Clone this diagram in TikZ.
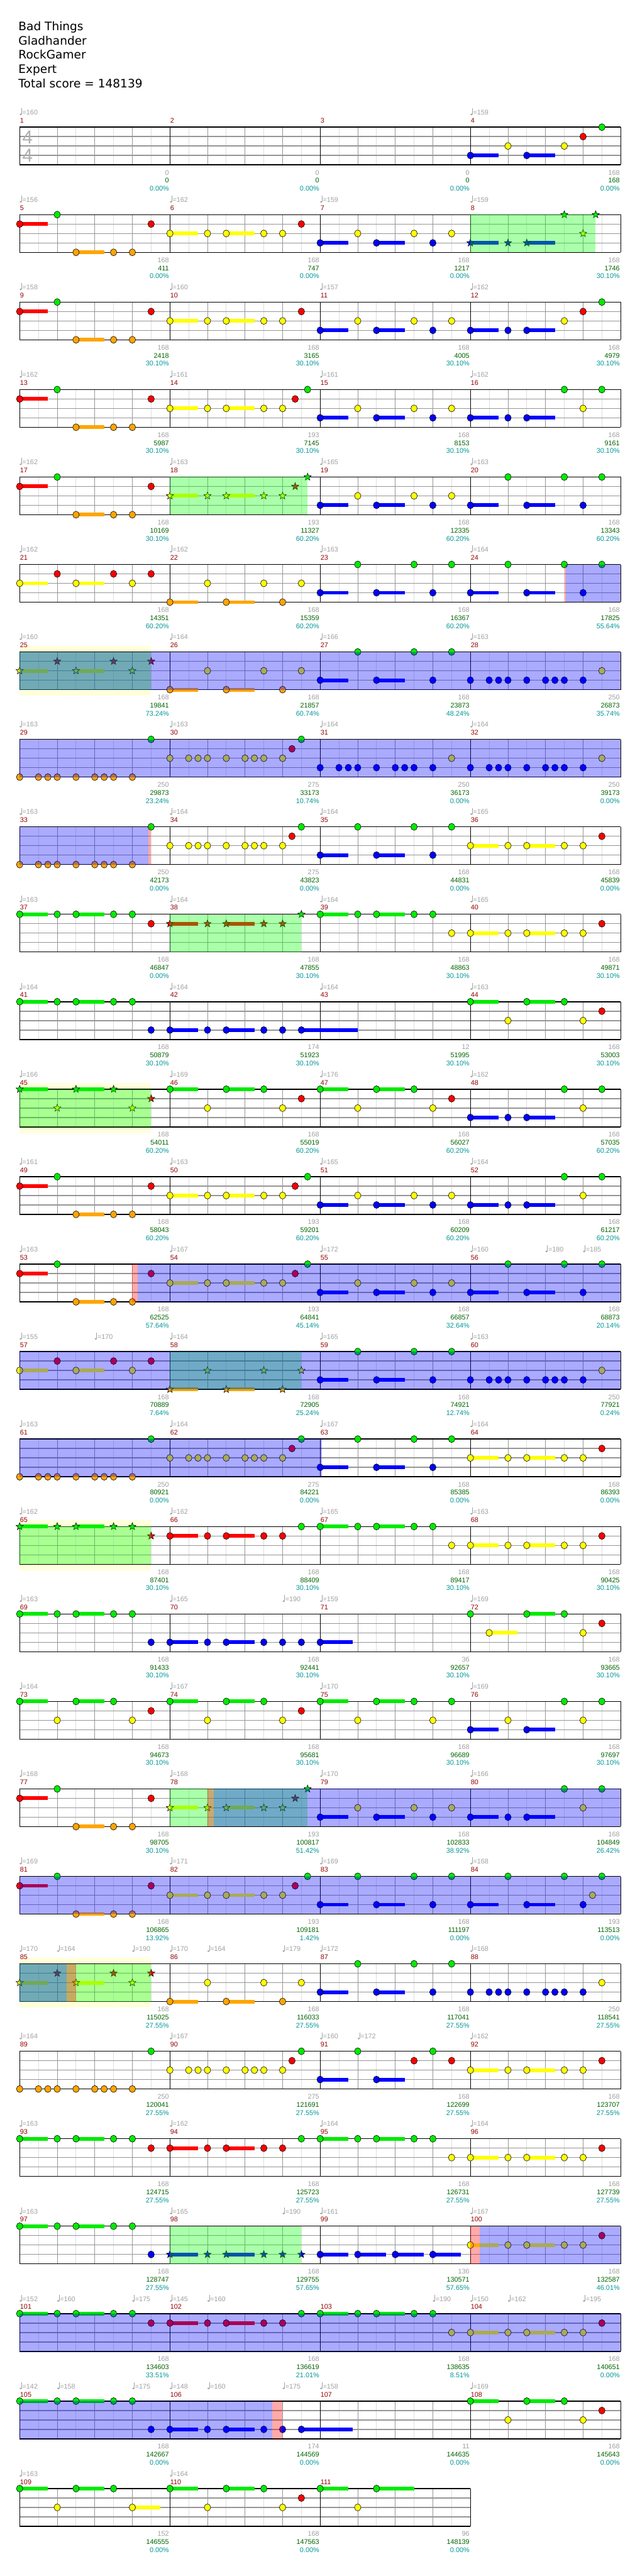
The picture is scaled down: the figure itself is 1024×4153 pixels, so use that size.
\documentclass[tikz,border=0pt]{standalone}
\usepackage{fontspec}
\setmainfont{Liberation Sans}
\newfontfamily\titlefont{DejaVu Sans}

% fret colours
\definecolor{lane0}{RGB}{0,235,0}
\definecolor{lane1}{RGB}{255,0,0}
\definecolor{lane2}{RGB}{255,255,0}
\definecolor{lane3}{RGB}{0,0,255}
\definecolor{lane4}{RGB}{255,165,0}
% chart colours
\definecolor{gridgray}{RGB}{150,150,150}
\definecolor{gridlight}{RGB}{222,222,222}
\definecolor{labgray}{RGB}{160,160,160}
\definecolor{scoregreen}{RGB}{0,100,0}
\definecolor{pctteal}{RGB}{0,150,150}
\definecolor{barred}{RGB}{150,0,0}
\definecolor{unisonbg}{RGB}{255,255,218}
\definecolor{siggray}{RGB}{175,175,175}

% layout, in pixels of the chart
\def\XO{31.7}    % left edge of the staves
\def\MW{242.3}   % one measure
\def\EW{30.2875} % one eighth
\def\RO{205}     % top line of the first staff
\def\RS{141}     % staff to staff
\def\LS{15.2}    % fret line to fret line

\tikzset{
  halfline/.style={gridlight,line width=0.8},
  beatline/.style={gridgray,line width=0.8},
  fretline/.style={gridgray,line width=1.4},
  barline/.style={black,line width=0.9},
  edgeline/.style={black,line width=1.4},
  notebox/.style={draw=black,line width=0.6},
  smalltxt/.style={font=\fontsize{11}{13}\selectfont,inner sep=0pt},
  titletxt/.style={font=\titlefont\fontsize{18.8}{22}\selectfont,inner sep=0pt,anchor=base west},
  gzone/.style={fill={rgb,255:red,0;green,255;blue,0},fill opacity=0.333},
  bzone/.style={fill=blue,fill opacity=0.333},
  pzone/.style={fill=red,fill opacity=0.333}
}

% origin of measure #1 -> \mx,\my
\newcommand\mpos[1]{%
  \pgfmathtruncatemacro\mrow{(#1-1)/4}%
  \pgfmathtruncatemacro\mcol{#1-1-4*\mrow}%
  \pgfmathsetmacro\mx{\XO+\mcol*\MW}%
  \pgfmathsetmacro\my{\RO+\mrow*\RS}}

% one measure of staff
\newcommand\staff[1]{\mpos{#1}%
  \foreach \k in {1,3,5,7}{\draw[halfline] (\mx+\k*\EW,\my) -- (\mx+\k*\EW,\my+4*\LS);}
  \foreach \k in {2,4,6}{\draw[beatline] (\mx+\k*\EW,\my) -- (\mx+\k*\EW,\my+4*\LS);}
  \foreach \k in {1,2,3}{\draw[fretline] (\mx,\my+\k*\LS) -- (\mx+\MW,\my+\k*\LS);}
  \draw[barline] (\mx,\my) -- (\mx,\my+4*\LS);
  \draw[edgeline] (\mx,\my) -- (\mx+\MW,\my) (\mx,\my+4*\LS) -- (\mx+\MW,\my+4*\LS);
  \node[smalltxt,barred,anchor=base west] (num#1) at (\mx+0.5,\my-7) {#1};}

% notes: position (eighths) / fret / sustain (eighths)
\newcommand\nts[2]{\mpos{#1}\edef\ntlist{#2}%
  \foreach \np/\nl/\ns in \ntlist {%
    \pgfmathsetmacro\nx{\mx+\np*\EW}\pgfmathsetmacro\ny{\my+\nl*\LS}%
    \ifdim\ns pt>0pt \fill[lane\nl] (\nx,\ny-3) rectangle (\nx+\ns*\EW,\ny+3);\fi
    \draw[notebox,fill=lane\nl] (\nx,\ny) ellipse[x radius=5.2,y radius=5.6];}}
% star power notes
\newcommand\sts[2]{\mpos{#1}\edef\ntlist{#2}%
  \foreach \np/\nl/\ns in \ntlist {%
    \pgfmathsetmacro\nx{\mx+\np*\EW}\pgfmathsetmacro\ny{\my+\nl*\LS}%
    \ifdim\ns pt>0pt \fill[lane\nl] (\nx,\ny-3) rectangle (\nx+\ns*\EW,\ny+3);\fi
    \draw[notebox,fill=lane\nl] (\nx,\ny) +(90:6.2pt) -- +(126:2.6pt) -- +(162:6.2pt) -- +(198:2.6pt)
      -- +(234:6.2pt) -- +(270:2.6pt) -- +(306:6.2pt) -- +(342:2.6pt) -- +(18:6.2pt) -- +(54:2.6pt) -- cycle;}}

\newcommand\tempo[3]{\mpos{#1}\pgfmathsetmacro\tx{\mx+#2*\EW}%
  \fill[labgray] (\tx+1.6,\my-20.5) ellipse[x radius=1.8,y radius=1.4];
  \draw[labgray,line width=0.7] (\tx+3.1,\my-20.5) -- (\tx+3.1,\my-30.5);
  \node[smalltxt,labgray,anchor=base west] (bpm#1-#2) at (\tx+4.2,\my-20) {=#3};}

\newcommand\lab[4]{\mpos{#1}\pgfmathsetmacro\lx{\mx+\MW-1.3}%
  \node[smalltxt,labgray,anchor=base east] (pts#1) at (\lx,\my+77) {#2};
  \node[smalltxt,scoregreen,anchor=base east] (score#1) at (\lx,\my+90) {#3};
  \node[smalltxt,pctteal,anchor=base east] (pct#1) at (\lx,\my+103) {#4\%};}

% shaded spans: style, row, from, to (eighths from the row start)
\newcommand\zone[4]{\pgfmathsetmacro\zy{\RO+#2*\RS}%
  \fill[#1] (\XO+#3*\EW,\zy) rectangle (\XO+#4*\EW,\zy+4*\LS);}
\newcommand\unison[3]{\pgfmathsetmacro\zy{\RO+#1*\RS}%
  \fill[unisonbg] (\XO+#2*\EW,\zy-10) rectangle (\XO+#3*\EW,\zy+4*\LS+10);}

% measure patterns
\newcommand\patA{0/1/1.5,2/0/0,3/4/1.5,5/4/0,6/4/0,7/1/0}
\newcommand\patB{0/2/1.5,2/2/0,3/2/1.5,5/2/0,6/2/0,7/1/0}
\newcommand\patBt{0/2/1.5,2/2/0,3/2/1.5,5/2/0,6/2/0,6.67/1/0,7.33/0/0}
\newcommand\patC{0/3/1.5,2/2/0,3/3/1.5,5/2/0,6/3/0,7/2/0}
\newcommand\patD{0/3/1.5,2/0/0,3/3/1.5,5/0/0,6/3/0,7/0/0}
\newcommand\patE{0/3/1.5,2/3/0,3/3/1.5,5/0/0,6/2/0,7/0/0}
\newcommand\patF{0/2/1.5,2/1/0,3/2/1.5,5/1/0,6/2/0,7/1/0}
\newcommand\patG{0/4/1.5,2/2/0,3/4/1.5,5/2/0,6/4/0,7/2/0}
\newcommand\patH{0/3/0,1/3/0,1.5/3/0,2/3/0,3/3/0,4/3/0,4.5/3/0,5/3/0,6/3/0,7/2/0}
\newcommand\patI{0/4/0,1/4/0,1.5/4/0,2/4/0,3/4/0,4/4/0,4.5/4/0,5/4/0,6/4/0,7/0/0}
\newcommand\patJ{0/2/0,1/2/0,1.5/2/0,2/2/0,3/2/0,4/2/0,4.5/2/0,5/2/0,6/2/0,6.5/1/0,7/0/0}
\newcommand\patL{0/0/1.5,2/0/0,3/0/1.5,5/0/0,6/0/0,7/1/0}
\newcommand\patM{0/1/1.5,2/1/0,3/1/1.5,5/1/0,6/1/0,7/0/0}
\newcommand\patN{0/0/1.5,2/0/0,3/0/1.5,5/0/0,6/0/0,7/2/0}
\newcommand\patO{0/0/1.5,2/0/0,3/0/1.5,5/0/0,6/0/0,7/3/0}
\newcommand\patQ{0/0/1.5,2/2/0,3/0/1.5,5/0/0,6/2/0,7/1/0}

\begin{document}
\begin{tikzpicture}[x=1pt,y=-1pt]
\useasboundingbox (0,0) rectangle (1024,4153);
\fill[white] (0,0) rectangle (1024,4153);

% heading
\node[titletxt] (song) at (29.7,49) {Bad Things};
\node[titletxt] (band) at (29.7,72) {Gladhander};
\node[titletxt] (player) at (29.7,95) {RockGamer};
\node[titletxt] (level) at (29.7,118) {Expert};
\node[titletxt] (total) at (29.7,141) {Total score = 148139};

% unison phrases
\foreach \r in {6,11,16,21}{\unison{\r}{0}{7}}

% staves
\foreach \m in {1,...,111}{\staff{\m}}
\foreach \r in {0,...,26}{\draw[barline] (\XO+4*\MW,\RO+\r*\RS) -- (\XO+4*\MW,\RO+\r*\RS+4*\LS);}
\draw[barline] (\XO+3*\MW,\RO+27*\RS) -- (\XO+3*\MW,\RO+27*\RS+4*\LS);
\node[font=\fontsize{30}{30}\selectfont,siggray,inner sep=0pt] (sigtop) at (44.5,221) {4};
\node[font=\fontsize{30}{30}\selectfont,siggray,inner sep=0pt] (sigbot) at (44.5,251) {4};

% tempo marks
\foreach \tm/\tp/\tb in {1/0/160,4/0/159,5/0/156,6/0/162,7/0/159,8/0/159,9/0/158,10/0/160,11/0/157,12/0/162,
  13/0/162,14/0/161,15/0/161,16/0/162,17/0/162,18/0/163,19/0/165,20/0/163,21/0/162,22/0/162,23/0/163,24/0/164,
  25/0/160,26/0/164,27/0/166,28/0/163,29/0/163,30/0/163,31/0/164,32/0/164,33/0/163,34/0/164,35/0/164,36/0/165,
  37/0/163,38/0/164,39/0/164,40/0/165,41/0/164,42/0/164,43/0/164,44/0/163,45/0/166,46/0/169,47/0/176,48/0/162,
  49/0/161,50/0/163,51/0/165,52/0/164,53/0/163,54/0/167,55/0/172,56/0/160,56/4/180,56/6/185,57/0/155,57/4/170,
  58/0/164,59/0/165,60/0/163,61/0/163,62/0/164,63/0/167,64/0/164,65/0/162,66/0/162,67/0/165,68/0/163,69/0/163,
  70/0/165,70/6/190,71/0/159,72/0/169,73/0/164,74/0/167,75/0/170,76/0/169,77/0/168,78/0/168,79/0/170,80/0/166,
  81/0/169,82/0/171,83/0/169,84/0/168,85/0/170,85/2/164,85/6/190,86/0/170,86/2/164,86/6/179,87/0/172,88/0/168,
  89/0/164,90/0/167,91/0/160,91/2/172,92/0/162,93/0/163,94/0/162,95/0/164,96/0/164,97/0/163,98/0/165,98/6/190,
  99/0/161,100/0/167,101/0/152,101/2/160,101/6/175,102/0/145,102/2/160,103/6/190,104/0/150,104/2/162,104/6/195,
  105/0/142,105/2/158,105/6/175,106/0/148,106/2/160,106/6/175,107/0/158,108/0/169,109/0/163,110/0/164}
  {\tempo{\tm}{\tp}{\tb}}

% points, score, multiplier share
\foreach \lbm/\lbp/\lbs/\lbc in {1/0/0/0.00,2/0/0/0.00,3/0/0/0.00,4/168/168/0.00,5/168/411/0.00,6/168/747/0.00,
  7/168/1217/0.00,8/168/1746/30.10,9/168/2418/30.10,10/168/3165/30.10,11/168/4005/30.10,12/168/4979/30.10,
  13/168/5987/30.10,14/193/7145/30.10,15/168/8153/30.10,16/168/9161/30.10,17/168/10169/30.10,18/193/11327/60.20,
  19/168/12335/60.20,20/168/13343/60.20,21/168/14351/60.20,22/168/15359/60.20,23/168/16367/60.20,24/168/17825/55.64,
  25/168/19841/73.24,26/168/21857/60.74,27/168/23873/48.24,28/250/26873/35.74,29/250/29873/23.24,30/275/33173/10.74,
  31/250/36173/0.00,32/250/39173/0.00,33/250/42173/0.00,34/275/43823/0.00,35/168/44831/0.00,36/168/45839/0.00,
  37/168/46847/0.00,38/168/47855/30.10,39/168/48863/30.10,40/168/49871/30.10,41/168/50879/30.10,42/174/51923/30.10,
  43/12/51995/30.10,44/168/53003/30.10,45/168/54011/60.20,46/168/55019/60.20,47/168/56027/60.20,48/168/57035/60.20,
  49/168/58043/60.20,50/193/59201/60.20,51/168/60209/60.20,52/168/61217/60.20,53/168/62525/57.64,54/193/64841/45.14,
  55/168/66857/32.64,56/168/68873/20.14,57/168/70889/7.64,58/168/72905/25.24,59/168/74921/12.74,60/250/77921/0.24,
  61/250/80921/0.00,62/275/84221/0.00,63/168/85385/0.00,64/168/86393/0.00,65/168/87401/30.10,66/168/88409/30.10,
  67/168/89417/30.10,68/168/90425/30.10,69/168/91433/30.10,70/168/92441/30.10,71/36/92657/30.10,72/168/93665/30.10,
  73/168/94673/30.10,74/168/95681/30.10,75/168/96689/30.10,76/168/97697/30.10,77/168/98705/30.10,78/193/100817/51.42,
  79/168/102833/38.92,80/168/104849/26.42,81/168/106865/13.92,82/193/109181/1.42,83/168/111197/0.00,84/193/113513/0.00,
  85/168/115025/27.55,86/168/116033/27.55,87/168/117041/27.55,88/250/118541/27.55,89/250/120041/27.55,90/275/121691/27.55,
  91/168/122699/27.55,92/168/123707/27.55,93/168/124715/27.55,94/168/125723/27.55,95/168/126731/27.55,96/168/127739/27.55,
  97/168/128747/27.55,98/168/129755/57.65,99/136/130571/57.65,100/168/132587/46.01,101/168/134603/33.51,102/168/136619/21.01,
  103/168/138635/8.51,104/168/140651/0.00,105/168/142667/0.00,106/174/144569/0.00,107/11/144635/0.00,108/168/145643/0.00,
  109/152/146555/0.00,110/168/147563/0.00,111/96/148139/0.00}
  {\lab{\lbm}{\lbp}{\lbs}{\lbc}}

% notes
\foreach \m/\pat in {5/\patA,6/\patB,7/\patC,9/\patA,10/\patB,11/\patC,13/\patA,14/\patBt,15/\patC,16/\patE,
  17/\patA,19/\patC,20/\patD,21/\patF,22/\patG,23/\patD,24/\patD,26/\patG,27/\patD,28/\patH,29/\patI,30/\patJ,
  31/\patH,32/\patH,33/\patI,34/\patJ,35/\patD,36/\patB,37/\patL,39/\patN,40/\patB,41/\patO,44/\patQ,46/\patQ,
  47/\patQ,48/\patE,49/\patA,50/\patBt,51/\patC,52/\patE,53/\patA,54/\patBt,55/\patC,56/\patD,57/\patF,59/\patD,
  60/\patH,61/\patI,62/\patJ,63/\patD,64/\patB,66/\patM,67/\patN,68/\patB,69/\patO,73/\patQ,74/\patQ,77/\patA,
  79/\patC,80/\patE,81/\patA,82/\patBt,83/\patD,86/\patG,87/\patD,88/\patH,89/\patI,90/\patJ,92/\patB,93/\patL,
  94/\patM,95/\patN,96/\patB,97/\patO,100/\patB,101/\patL,102/\patM,103/\patN,104/\patB,105/\patO,108/\patQ,110/\patQ}
  {\nts{\m}{\pat}}
\nts{4}{0/3/1.5,2/2/0,3/3/1.5,5/2/0,6/1/0,7/0/0}
\nts{12}{0/3/1.5,2/3/0,3/3/1.5,5/2/0,6/1/0,7/0/0}
\nts{42}{0/3/1.5,2/3/0,3/3/1.5,5/3/0,6/3/0,7/3/3}
\nts{70}{0/3/1.5,2/3/0,3/3/1.5,5/3/0,6/3/0,7/3/0}
\nts{71}{0/3/1.75}
\nts{72}{0/0/0,1/2/1.5,3/0/1.5,5/0/0,6/2/0,7/1/0}
\nts{75}{0/0/1.5,2/2/0,3/0/1.5,5/0/0,6/2/0,7/0/0}
\nts{76}{0/3/1.5,2/2/0,3/3/1.5,5/0/0,6/2/0,7/0/0}
\nts{84}{0/3/1.5,2/0/0,3/3/1.5,5/0/0,6/3/0,6.5/2/0,7/0/0}
\nts{91}{0/3/1.5,2/0/0,3/3/1.5,5/1/0,6/0/0,7/1/0}
\nts{99}{0/3/1.5,2/3/1.5,4/3/1.5,6/3/1.5}
\nts{106}{0/3/1.5,2/3/0,3/3/1.5,5/3/0,6/3/0,7/3/2.75}
\nts{109}{0/0/1.5,2/2/0,3/0/1.5,5/0/0,6/2/1.5}
\nts{111}{0/0/1.5,2/2/0,3/0/2}
% star power phrases
\sts{8}{0/3/1.5,2/3/0,3/3/1.5,5/0/0,6/2/0,6.67/0/0}
\sts{18}{\patBt}
\sts{25}{\patF}
\sts{38}{\patM}
\sts{45}{\patQ}
\sts{58}{\patG}
\sts{65}{\patL}
\sts{78}{\patBt}
\sts{85}{\patF}
\sts{98}{0/3/1.5,2/3/0,3/3/1.5,5/3/0,6/3/0,7/3/0}

% star power spans
\foreach \r/\qa/\qb in {1/24/30.67,4/8/15.33,6/0/7,9/8/15,11/0/7,14/8/15,16/0/7,19/8/15.33,21/0/7,24/8/15}
  {\zone{gzone}{\r}{\qa}{\qb}}
% overdrive spans
\foreach \r/\qa/\qb in {5/29.08/32,6/0/32,7/0/32,8/0/6.85,13/6.3/32,14/0/32,15/0/16.1,19/10.33/32,20/0/32,
  21/0/2.5,24/24.5/32,25/0/32,26/0/13.45}
  {\zone{bzone}{\r}{\qa}{\qb}}
\foreach \r/\qa/\qb in {5/29/29.08,8/6.85/7,13/6/6.3,19/10/10.33,21/2.5/3,24/24/24.5,26/13.45/14}
  {\zone{pzone}{\r}{\qa}{\qb}}
\end{tikzpicture}
\end{document}
